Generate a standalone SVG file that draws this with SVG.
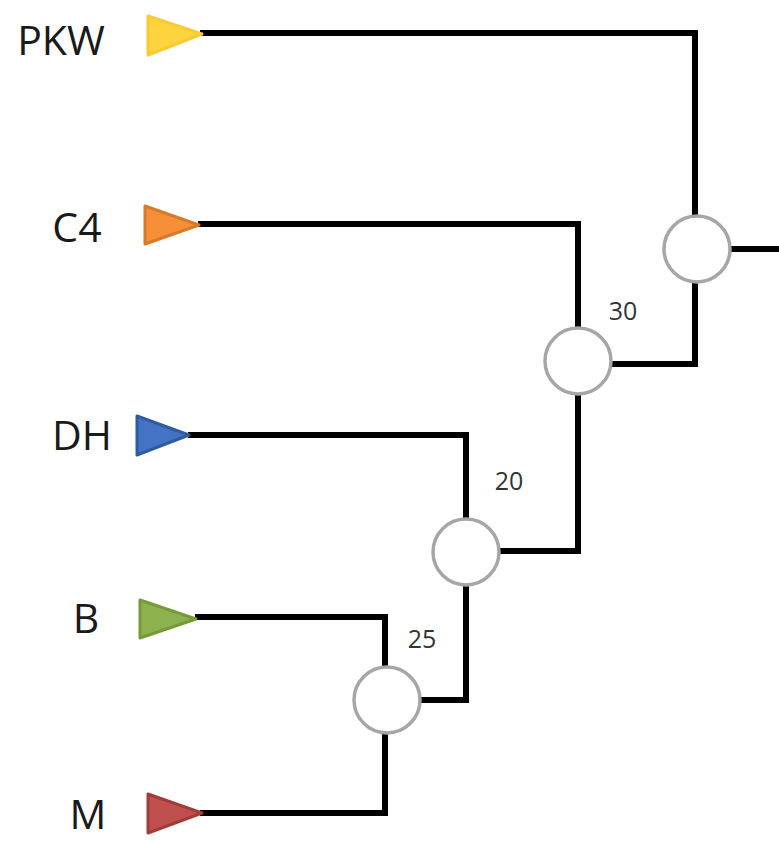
<svg xmlns="http://www.w3.org/2000/svg" width="779" height="841" viewBox="0 0 779 841">
  <style>
    .leaf { font-family: "Open Sans", "Liberation Sans", sans-serif; font-size: 41px; fill: #1a1a1a; text-anchor: middle; }
    .num { font-family: "Open Sans", "Liberation Sans", sans-serif; font-size: 25px; fill: #333333; text-anchor: middle; }
    .edge { fill: none; stroke: #000000; stroke-width: 6; stroke-linejoin: miter; }
    .join { fill: #ffffff; stroke: #a6a6a6; stroke-width: 3.5; }
    .tip { stroke-width: 3; stroke-linejoin: round; }
  </style>
  <rect width="779" height="841" fill="#ffffff"/>

  <!-- branches -->
  <g id="connectors">
    <polyline class="edge" points="200,33 695,33 695,216"/>
    <polyline class="edge" points="730,249 779,249"/>
    <polyline class="edge" points="695,282 695,364 610,364"/>
    <polyline class="edge" points="198,224 578,224 578,329"/>
    <polyline class="edge" points="578,394 578,551 499,551"/>
    <polyline class="edge" points="188,435 466,435 466,519"/>
    <polyline class="edge" points="466,584 466,700 419,700"/>
    <polyline class="edge" points="195,617 385,617 385,667"/>
    <polyline class="edge" points="200,813 385,813 385,733"/>
  </g>

  <!-- leaves -->
  <g id="leaf-pkw">
    <polygon class="tip" points="148,16 148,55 202,34" fill="#fed43e" stroke="#f7ca36"/>
    <text class="leaf" x="61" y="55">PKW</text>
  </g>
  <g id="leaf-c4">
    <polygon class="tip" points="145,206 145,244 199,225" fill="#f59038" stroke="#d97a2b"/>
    <text class="leaf" x="77" y="242">C4</text>
  </g>
  <g id="leaf-dh">
    <polygon class="tip" points="137,416 137,455 189,435" fill="#4472c4" stroke="#2f5c9e"/>
    <text class="leaf" x="82" y="450">DH</text>
  </g>
  <g id="leaf-b">
    <polygon class="tip" points="140,600 140,638 196,619" fill="#8db24d" stroke="#76993a"/>
    <text class="leaf" x="86" y="633">B</text>
  </g>
  <g id="leaf-m">
    <polygon class="tip" points="148,794 148,833 202,813" fill="#c0504d" stroke="#a03c39"/>
    <text class="leaf" x="88" y="829">M</text>
  </g>

  <!-- internal nodes -->
  <g id="node-root">
    <circle class="join" cx="697" cy="249" r="33"/>
  </g>
  <g id="node-30">
    <circle class="join" cx="578" cy="361" r="33"/>
    <text class="num" x="623" y="320">30</text>
  </g>
  <g id="node-20">
    <circle class="join" cx="466" cy="552" r="33"/>
    <text class="num" x="509" y="490">20</text>
  </g>
  <g id="node-25">
    <circle class="join" cx="387" cy="700" r="33"/>
    <text class="num" x="422" y="648">25</text>
  </g>
</svg>
